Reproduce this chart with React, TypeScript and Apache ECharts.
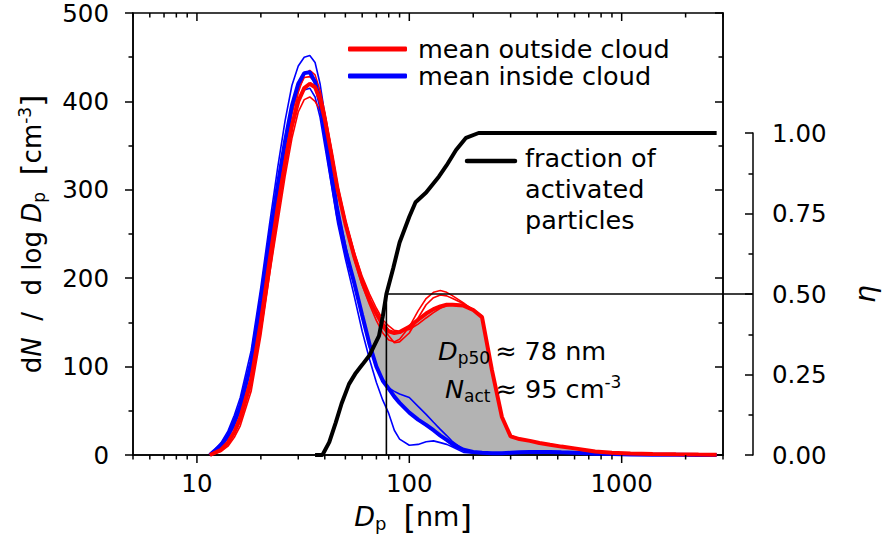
import React, { useEffect, useRef } from 'react';
import * as echarts from 'echarts';

// particle diameter bins (nm)
const diameters = [
  11.5, 12, 13, 14, 15, 16, 18, 20, 22, 24,
  26, 28, 30, 32, 34, 36, 38, 40, 43, 46,
  50, 55, 60, 65, 70, 75, 80, 85, 90, 100,
  110, 120, 130, 140, 150, 160, 180, 200, 220, 245,
  273, 300, 330, 370, 410, 460, 520, 600, 750, 900,
  1100, 1400, 1800, 2300, 2800,
];

const redMean = [
  0, 2, 6, 14, 26, 42, 85, 150, 220, 280,
  330, 372, 400, 415, 420, 416, 402, 380, 340, 300,
  262, 225, 196, 175, 160, 148, 140, 138, 139, 145,
  153, 160, 165, 168, 170, 170, 169, 164, 156, 96,
  43, 21, 18, 16, 13.5, 11.5, 9.5, 7.5, 4, 2.5,
  1.8, 1.2, 0.8, 0.5, 0.4,
];

const blueMean = [
  0, 4, 11, 22, 38, 56, 105, 175, 245, 305,
  355, 395, 420, 432, 433, 422, 398, 365, 315, 272,
  232, 195, 158, 125, 100, 84, 75, 66, 59, 48,
  40, 34, 28, 22, 17, 12, 6, 3.5, 2.5, 2,
  2, 2.5, 3, 3.5, 3.5, 3.5, 3, 2.5, 1.5, 1,
  0.6, 0.3, 0.2, 0.1, 0,
];

const redThinA = [
  0, 1, 4, 10, 20, 33, 72, 135, 205, 270,
  325, 375, 410, 430, 435, 430, 412, 388, 345, 302,
  260, 222, 192, 170, 152, 138, 130, 128, 131, 145,
  163, 177, 184, 186, 184, 180, 172, 164, 156, 95,
  42, 21, 18, 16, 13.5, 11.5, 9.5, 7.5, 4, 2.5,
  1.8, 1.2, 0.8, 0.5, 0.4,
];

const redThinB = [
  0, 1, 5, 13, 24, 38, 78, 140, 205, 262,
  315, 358, 388, 402, 405, 400, 390, 375, 340, 302,
  265, 230, 202, 182, 166, 153, 146, 141, 140, 142,
  148, 155, 161, 166, 169, 170, 169, 165, 157, 97,
  44, 22, 18.5, 16, 13.5, 11.5, 9.5, 7.5, 4, 2.5,
  1.8, 1.2, 0.8, 0.5, 0.4,
];

const redThinC = [
  0, 2, 6, 15, 28, 45, 90, 158, 228, 290,
  340, 385, 414, 427, 428, 422, 408, 385, 345, 305,
  266, 228, 198, 176, 158, 144, 135, 127, 128, 138,
  155, 170, 178, 181, 180, 177, 171, 164, 156, 96,
  43, 21, 18, 16, 13.5, 11.5, 9.5, 7.5, 4, 2.5,
  1.8, 1.2, 0.8, 0.5, 0.4,
];

const blueThinA = [
  0, 5, 14, 27, 45, 65, 118, 190, 262, 325,
  378, 418, 440, 450, 452, 444, 420, 385, 330, 282,
  238, 195, 155, 122, 100, 86, 76, 72, 69, 65,
  55, 46, 37, 29, 22, 15, 6, 3, 2.5, 2,
  2, 2.5, 3, 3.5, 3.5, 3.5, 3, 2.5, 1.5, 1,
  0.6, 0.3, 0.2, 0.1, 0,
];

const blueThinB = [
  0, 3, 9, 19, 33, 50, 98, 165, 232, 290,
  338, 375, 400, 413, 415, 405, 382, 350, 305, 262,
  222, 180, 140, 108, 82, 62, 47, 28, 18, 11,
  12, 15, 16, 14, 12, 9, 3, 2, 2, 2,
  2, 2.5, 3, 3.5, 3.5, 3.5, 3, 2.5, 1.5, 1,
  0.6, 0.3, 0.2, 0.1, 0,
];

// activated fraction eta
const etaDiameters = [36, 39, 42, 45, 48, 52, 56, 60, 65, 72, 75, 78, 84, 90, 100, 107, 120, 138, 150, 166, 185, 212, 2800];
const etaValues = [0, 0, 0.04, 0.1, 0.16, 0.22, 0.255, 0.28, 0.31, 0.37, 0.43, 0.5, 0.58, 0.66, 0.74, 0.785, 0.815, 0.865, 0.9, 0.947, 0.985, 1.0, 1.0];

const dp50 = 78;
const eta50 = 0.5;

const xTickValues = [5, 6, 7, 8, 9, 10, 20, 30, 40, 50, 60, 70, 80, 90, 100, 200, 300, 400, 500, 600, 700, 800, 900, 1000, 2000, 3000];
const xMajorLabels = ['10', '100', '1000'];

const FONT = 'DejaVu Sans';
const pairs = (ys: number[]) => diameters.map((d, i) => [d, ys[i]]);

const isMajor = (v: number) => xMajorLabels.indexOf(String(Math.round(v))) >= 0 && Math.abs(Math.log10(v) - Math.round(Math.log10(v))) < 1e-9;

export default function App() {
  const ref = useRef<HTMLDivElement>(null);
  useEffect(() => {
    document.body.style.margin = '0';
    const chart = echarts.init(ref.current!, null, { renderer: 'svg' });

    const thin = (name: string, color: string, ys: number[]) => ({
      name, type: 'line', xAxisIndex: 0, yAxisIndex: 0, data: pairs(ys), symbol: 'none',
      lineStyle: { color, width: 1.6 }, z: 3, silent: true,
    });

    const option: any = {
      animation: false,
      backgroundColor: '#fff',
      textStyle: { fontFamily: FONT },
      grid: [
        { left: 133, right: 159, top: 13, bottom: 85, show: true, borderColor: '#000', borderWidth: 1.5, backgroundColor: 'transparent', outerBoundsMode: 'none' },
        { left: 133, right: 159, top: 133, bottom: 85, show: false, outerBoundsMode: 'none' },
      ],
      legend: {
        orient: 'vertical', left: 348, top: 35.5, padding: 0, itemGap: 0,
        itemWidth: 59, itemHeight: 5, icon: 'roundRect',
        data: ['mean outside cloud', 'mean inside cloud'],
        textStyle: { fontFamily: FONT, fontSize: 25.5, color: '#000', lineHeight: 27, padding: [0, 0, 0, 6] },
      },
      xAxis: [
        {
          type: 'log', logBase: 10, min: 5, max: 3000, gridIndex: 0,
          axisLine: { show: true, lineStyle: { color: '#000', width: 1.5 } },
          axisTick: { show: false }, splitLine: { show: false }, minorTick: { show: false },
          axisLabel: {
            color: '#000', fontSize: 24.5, fontFamily: FONT, margin: 16,
            formatter: (v: number) => (isMajor(v) ? String(Math.round(v)) : ''),
          },
          name: '{i|D}{sub|p}  {b|[}nm{b|]}', nameLocation: 'middle', nameGap: 44,
          nameTextStyle: {
            color: '#000', fontSize: 27, fontFamily: FONT, padding: [0, 30, 0, 0],
            rich: {
              i: { fontStyle: 'italic', fontSize: 27, fontFamily: FONT, color: '#000' },
              sub: { fontSize: 18, fontFamily: FONT, color: '#000', padding: [14, 0, 0, 0] },
              b: { fontSize: 32, fontFamily: FONT, color: '#000' },
            },
          },
        },
        { type: 'log', logBase: 10, min: 5, max: 3000, gridIndex: 1, show: false },
      ],
      yAxis: [
        {
          type: 'value', min: 0, max: 500, interval: 100, gridIndex: 0, position: 'left',
          axisLine: { show: true, lineStyle: { color: '#000', width: 1.5 } },
          axisTick: { show: true, length: 8, lineStyle: { color: '#000', width: 1.5 } },
          minorTick: { show: true, splitNumber: 2, length: 4.5, lineStyle: { color: '#000', width: 1.5 } },
          splitLine: { show: false },
          axisLabel: { color: '#000', fontSize: 24.5, fontFamily: FONT, margin: 24 },
          name: 'd{i|N}  /  d log {i|D}{sub|p}  {b|[}cm{sup|-3}{b|]}', nameLocation: 'middle', nameGap: 86, nameRotate: 90,
          nameTextStyle: {
            color: '#000', fontSize: 26, fontFamily: FONT,
            rich: {
              i: { fontStyle: 'italic', fontSize: 26, fontFamily: FONT, color: '#000' },
              sub: { fontSize: 17, fontFamily: FONT, color: '#000', padding: [14, 0, 0, 0] },
              sup: { fontSize: 17, fontFamily: FONT, color: '#000', padding: [0, 0, 14, 0] },
              b: { fontSize: 31, fontFamily: FONT, color: '#000' },
            },
          },
        },
        {
          type: 'value', min: 0, max: 500, interval: 100, gridIndex: 0, position: 'right',
          axisLine: { show: true, lineStyle: { color: '#000', width: 1.5 } },
          axisTick: { show: true, inside: true, length: 8, lineStyle: { color: '#000', width: 1.5 } },
          minorTick: { show: true, splitNumber: 2, length: 4.5, lineStyle: { color: '#000', width: 1.5 } },
          splitLine: { show: false }, axisLabel: { show: false },
        },
        {
          type: 'value', min: 0, max: 1, interval: 0.25, gridIndex: 1, position: 'right', offset: 30,
          axisLine: { show: true, lineStyle: { color: '#000', width: 1.5 } },
          axisTick: { show: true, inside: true, length: 8, lineStyle: { color: '#000', width: 1.5 } },
          minorTick: { show: true, splitNumber: 2, length: 4.5, lineStyle: { color: '#000', width: 1.5 } },
          splitLine: { show: false },
          axisLabel: { color: '#000', fontSize: 24.5, fontFamily: FONT, margin: 19, formatter: (v: number) => v.toFixed(2) },
          name: 'η', nameLocation: 'middle', nameGap: 98, nameRotate: 90,
          nameTextStyle: { color: '#000', fontSize: 28, fontStyle: 'italic', fontFamily: FONT },
        },
      ],
      graphic: [
        { type: 'line', shape: { x1: 467, y1: 161, x2: 515, y2: 161 }, style: { stroke: '#000', lineWidth: 4.5, lineCap: 'round' }, z: 10 },
        {
          type: 'text', left: 525, top: 142.5, z: 10,
          style: { text: 'fraction of\nactivated\nparticles', fontSize: 25.5, fontFamily: FONT, fill: '#000', lineHeight: 31 },
        },
        {
          type: 'text', left: 438, top: 338, z: 10,
          style: {
            text: '{i|D}{sub|p50}{n|\u2009≈ 78 nm}', fontFamily: FONT, fill: '#000',
            rich: {
              i: { fontStyle: 'italic', fontSize: 25.5, fontFamily: FONT, fill: '#000', lineHeight: 30 },
              sub: { fontSize: 17, fontFamily: FONT, fill: '#000', padding: [14, 0, 0, 0] },
              n: { fontSize: 25.5, fontFamily: FONT, fill: '#000', lineHeight: 30 },
            },
          },
        },
        {
          type: 'text', left: 445, top: 373, z: 10,
          style: {
            text: '{i|N}{sub|act}{n|\u2009≈ 95 cm}{sup|-3}', fontFamily: FONT, fill: '#000',
            rich: {
              i: { fontStyle: 'italic', fontSize: 25.5, fontFamily: FONT, fill: '#000', lineHeight: 30 },
              sub: { fontSize: 17, fontFamily: FONT, fill: '#000', padding: [14, 0, 0, 0] },
              sup: { fontSize: 17, fontFamily: FONT, fill: '#000', padding: [0, 0, 14, 0] },
              n: { fontSize: 25.5, fontFamily: FONT, fill: '#000', lineHeight: 30 },
            },
          },
        },
      ],
      series: [
        {
          name: 'band', type: 'custom', xAxisIndex: 0, yAxisIndex: 0, data: [[diameters[0], 0]], z: 1, silent: true,
          renderItem: (params: any, api: any) => {
            const upper = diameters.map((d, i) => api.coord([d, Math.max(redMean[i], blueMean[i])]));
            const lower = diameters.map((d, i) => api.coord([d, blueMean[i]])).reverse();
            return { type: 'polygon', shape: { points: upper.concat(lower) }, style: { fill: '#b3b3b3', stroke: null } };
          },
        },
        thin('blue1', '#0000ff', blueThinA),
        thin('blue2', '#0000ff', blueThinB),
        thin('red1', '#ff0000', redThinA),
        thin('red2', '#ff0000', redThinB),
        thin('red3', '#ff0000', redThinC),
        {
          name: 'mean inside cloud', type: 'line', data: pairs(blueMean), symbol: 'none', color: '#0000ff',
          lineStyle: { color: '#0000ff', width: 4 }, itemStyle: { color: '#0000ff' }, z: 4, silent: true,
        },
        {
          name: 'mean outside cloud', type: 'line', data: pairs(redMean), symbol: 'none', color: '#ff0000',
          lineStyle: { color: '#ff0000', width: 4 }, itemStyle: { color: '#ff0000' }, z: 5, silent: true,
        },
        {
          name: 'fraction of activated particles', type: 'line', xAxisIndex: 1, yAxisIndex: 2,
          data: etaDiameters.map((d, i) => [d, etaValues[i]]), symbol: 'none',
          lineStyle: { color: '#000', width: 4 }, z: 6, silent: true,
        },
        {
          name: 'dp50', type: 'custom', xAxisIndex: 1, yAxisIndex: 2, data: [[dp50, eta50]], clip: false, z: 6, silent: true,
          renderItem: (params: any, api: any) => {
            const p0 = api.coord([api.value(0), 0]);
            const p1 = api.coord([api.value(0), api.value(1)]);
            const cs = params.coordSys;
            const xr = cs.x + cs.width + 30;
            return {
              type: 'polyline',
              shape: { points: [p0, p1, [xr, p1[1]]] },
              style: { stroke: '#000', lineWidth: 1.6, fill: null },
            };
          },
        },
        {
          name: 'xticks', type: 'custom', xAxisIndex: 0, yAxisIndex: 0, data: xTickValues.map((v) => [v, 0]), clip: false, z: 7, silent: true,
          renderItem: (params: any, api: any) => {
            const v = api.value(0);
            const p = api.coord([v, 0]);
            const cs = params.coordSys;
            const len = isMajor(v) ? 8 : 4.5;
            const bottom = cs.y + cs.height;
            return {
              type: 'group',
              children: [
                { type: 'line', shape: { x1: p[0], y1: bottom, x2: p[0], y2: bottom + len }, style: { stroke: '#000', lineWidth: 1.5 } },
                { type: 'line', shape: { x1: p[0], y1: cs.y, x2: p[0], y2: cs.y + len }, style: { stroke: '#000', lineWidth: 1.5 } },
              ],
            };
          },
        },
      ],
    };

    chart.setOption(option);
    return () => chart.dispose();
  }, []);
  return <div ref={ref} style={{ width: 882, height: 540, position: 'absolute', left: 0, top: 0 }} />;
}
